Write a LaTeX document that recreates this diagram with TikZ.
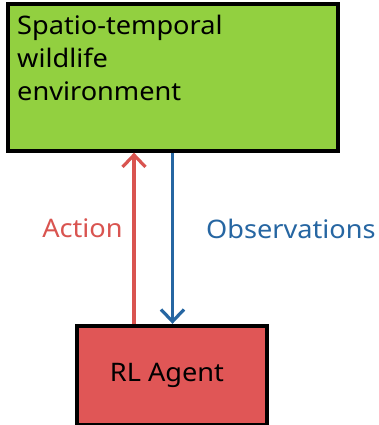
\documentclass[tikz,border=0pt]{standalone}
\usepackage{fontspec}
\setmainfont[FakeStretch=1.065]{Noto Sans}
\usetikzlibrary{arrows.meta}
\definecolor{envgreen}{RGB}{146,208,64}
\definecolor{agentred}{RGB}{224,86,86}
\definecolor{actred}{RGB}{217,84,80}
\definecolor{obsblue}{RGB}{38,102,162}
\tikzset{
  block/.style={draw=black, line width=4pt, inner sep=0pt},
  link/.style={line width=3.2pt, -{Straight Barb[length=12pt,width=23pt,line width=3.2pt]}},
  lbl/.style={font=\fontsize{25.5}{32.7}\selectfont, inner sep=0pt},
}
\begin{document}
\begin{tikzpicture}[x=1pt,y=-1pt]
\useasboundingbox (0,0) rectangle (378,425);
% environment box; the base anchor of the text sits on its last line
\node[block, fill=envgreen, minimum width=330.3pt, minimum height=146.7pt] (env) at (173.2,77.3) {};
\node[lbl, anchor=base west, align=left] (envtext) at (17,100.2)
  {Spatio-temporal\\wildlife\\environment};
% agent box
\node[block, fill=agentred, minimum width=190pt, minimum height=99.2pt] (agent) at (172.3,375.4) {};
\node[lbl, anchor=base] (agenttext) at (167,381.6) {RL Agent};
% connectors between the two boxes
\coordinate (aX) at (134,0);
\coordinate (oX) at (172.5,0);
\draw[link, actred] (agent.north -| aX) -- (env.south -| aX);
\draw[link, obsblue] (env.south -| oX) -- (agent.north -| oX);
\node[lbl, text=actred, anchor=base] (act) at (82.5,237.7) {Action};
\node[lbl, text=obsblue, anchor=base west] (obs) at (206,238) {Observations};
\end{tikzpicture}
\end{document}
